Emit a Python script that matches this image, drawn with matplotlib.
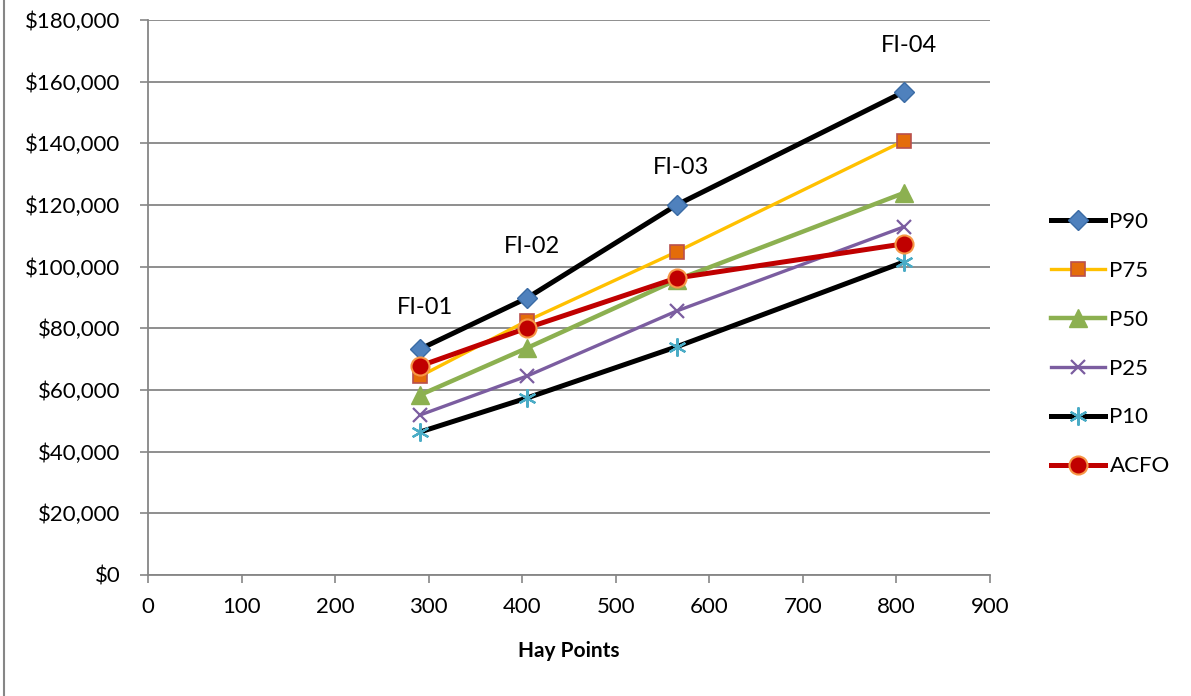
import matplotlib
matplotlib.use("Agg")
import matplotlib.pyplot as plt
from matplotlib.lines import Line2D
from matplotlib.ticker import FuncFormatter

plt.rcParams['font.family'] = ['Lato', 'DejaVu Sans']

# data
hay_points = [291, 405, 565, 808]
grades = ["FI-01", "FI-02", "FI-03", "FI-04"]
p90 = [73300, 89800, 120000, 156700]
p75 = [64500, 82400, 104800, 140800]
p50 = [58400, 73600, 95700, 123900]
p25 = [51900, 64500, 85600, 112900]
p10 = [46400, 57400, 74000, 101500]
acfo = [67800, 80100, 96300, 107400]
label_y = [86600, 106400, 132000, 171600]

fig = plt.figure(figsize=(11.91, 6.96), dpi=100)
ax = fig.add_axes([0.1243, 0.1739, 0.8312 - 0.1243, 0.9713 - 0.1739])

# series styles: line colour, width, marker, marker face, marker edge, size
ax.plot(hay_points, p90, color="black", lw=3.6, marker="D", ms=10,
        mfc="#4F81BD", mec="#3A6BA5", label="P90")
ax.plot(hay_points, p75, color="#FFC000", lw=2.4, marker="s", ms=10,
        mfc="#E46C0A", mec="#B9504D", mew=1.2, label="P75")
ax.plot(hay_points, p50, color="#8CB050", lw=3.2, marker="^", ms=13,
        mfc="#8CB050", mec="#8CB050", label="P50")
ax.plot(hay_points, p25, color="#7B5DA0", lw=2.4, marker="x", ms=10,
        mew=1.6, mec="#7B5DA0", label="P25")
ax.plot(hay_points, p10, color="black", lw=3.6, marker=(6, 2, 0), ms=13,
        mew=1.6, mec="#4BACC6", label="P10")
ax.plot(hay_points, acfo, color="#C00000", lw=3.6, marker="o", ms=13,
        mfc="#C00000", mec="#F79646", mew=1.5, label="ACFO")

for x, y, g in zip(hay_points, label_y, grades):
    ax.text(x + 5, y, g, fontsize=17, ha="center", va="center")

ax.set_xlim(0, 900)
ax.set_ylim(0, 180000)
ax.set_xticks(range(0, 901, 100))
ax.set_yticks(range(0, 180001, 20000))
ax.yaxis.set_major_formatter(FuncFormatter(lambda v, p: "${:,.0f}".format(v)))
ax.tick_params(labelsize=16, color="#868686", length=6, width=1.2)
ax.tick_params(axis="y", pad=14)
ax.tick_params(axis="x", pad=10)
ax.grid(axis="y", color="#868686", lw=1.3)
ax.set_axisbelow(True)
for s in ["top", "right"]:
    ax.spines[s].set_visible(False)
for s in ["left", "bottom"]:
    ax.spines[s].set_color("#868686")
    ax.spines[s].set_linewidth(1.3)

ax.set_xlabel("Hay Points", fontsize=15, fontweight="bold", labelpad=17)

ax.legend(loc="center left", bbox_to_anchor=(1.072, 0.416), frameon=False,
          fontsize=16, handlelength=2.45, labelspacing=1.3, handletextpad=0.2,
          borderpad=0, borderaxespad=0)

fig.add_artist(Line2D([0.003, 0.003], [0, 1], transform=fig.transFigure,
                      color="#868686", lw=1.5))

fig.savefig("out.png", dpi=100)
